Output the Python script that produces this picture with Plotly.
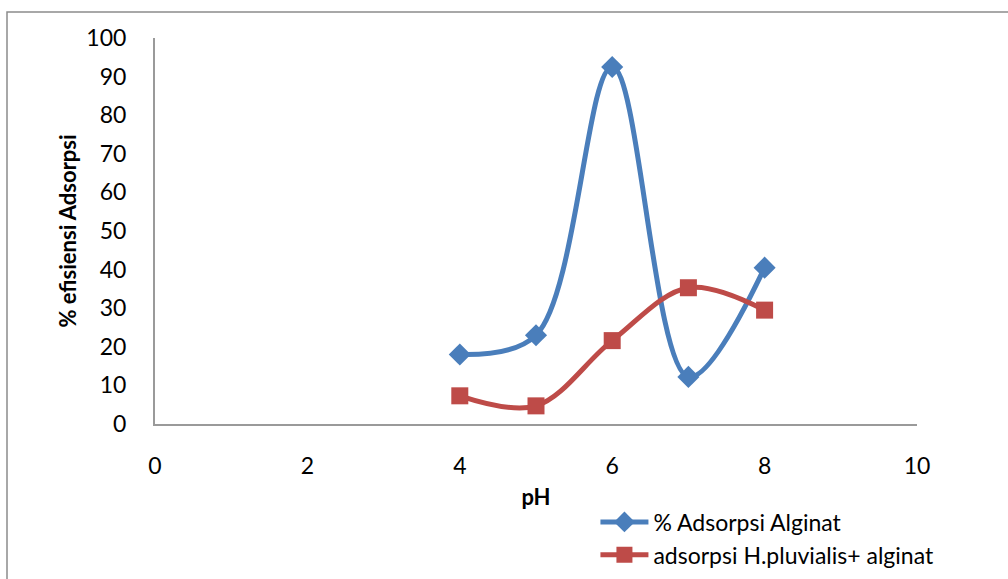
import plotly.graph_objects as go

# pH values and adsorption efficiency (%)
ph = [4, 5, 6, 7, 8]
adsorpsi_alginat = [18, 23, 92.5, 12.2, 40.5]
adsorpsi_hp_alginat = [7.3, 4.7, 21.6, 35.3, 29.5]

series_names = ["% Adsorpsi Alginat", "adsorpsi H.pluvialis+ alginat"]
x_ticks = [0, 2, 4, 6, 8, 10]
y_ticks = [0, 10, 20, 30, 40, 50, 60, 70, 80, 90, 100]

FONT = "Lato, Carlito, 'Open Sans', sans-serif"
BLUE = "#4A7EBB"
RED = "#BE4B48"
AXIS = "#9A9A9A"

fig = go.Figure()
fig.add_trace(go.Scatter(
    x=ph, y=adsorpsi_alginat, name=series_names[0],
    mode="lines+markers",
    line=dict(color=BLUE, width=5, shape="spline", smoothing=1.0),
    marker=dict(symbol="diamond", size=17, color=BLUE),
))
fig.add_trace(go.Scatter(
    x=ph, y=adsorpsi_hp_alginat, name=series_names[1],
    mode="lines+markers",
    line=dict(color=RED, width=5, shape="spline", smoothing=1.0),
    marker=dict(symbol="square", size=17, color=RED),
))

fig.update_layout(
    width=1008, height=579,
    margin=dict(l=155, r=91, t=38, b=155, autoexpand=False),
    paper_bgcolor="white", plot_bgcolor="white",
    font=dict(family=FONT, size=23, color="black"),
    showlegend=True,
    legend=dict(
        x=0.578, y=-0.198, xanchor="left", yanchor="top",
        font=dict(size=23), bgcolor="rgba(0,0,0,0)",
        tracegroupgap=0, itemwidth=48,
    ),
    xaxis=dict(
        range=[0, 10], tickvals=x_ticks, showgrid=False, zeroline=False,
        showline=True, linecolor=AXIS, linewidth=2, automargin=False,
        ticks="outside", ticklen=20, tickcolor="rgba(0,0,0,0)",
        title=dict(text="<b>pH</b>", font=dict(size=22), standoff=12),
    ),
    yaxis=dict(
        range=[0, 100], tickvals=y_ticks, showgrid=False, zeroline=False,
        showline=True, linecolor=AXIS, linewidth=2, automargin=False,
        ticks="outside", ticklen=22, tickcolor="rgba(0,0,0,0)",
        title=dict(text="<b>% efisiensi Adsorpsi</b>", font=dict(size=22), standoff=4),
    ),
    shapes=[dict(
        type="rect", xref="paper", yref="paper",
        x0=-148 / 762, x1=1.3, y0=-0.6, y1=(579 - 12 - 155) / 386,
        line=dict(color="#8C8C8C", width=1.5), fillcolor="rgba(0,0,0,0)",
        layer="below",
    )],
)

fig.write_html("out.html")
